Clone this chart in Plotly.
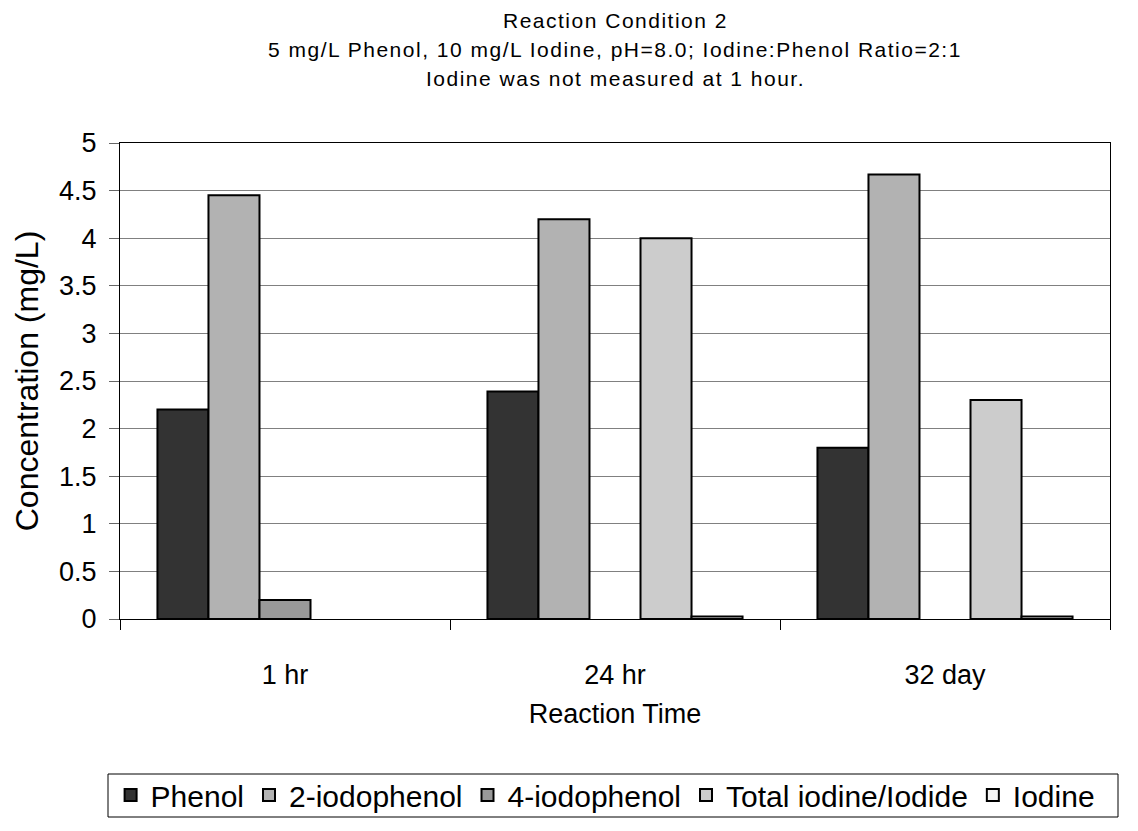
import plotly.graph_objects as go

# Sampling times and measured concentrations (mg/L); None = not measured
times = ["1 hr", "24 hr", "32 day"]
phenol = [2.2, 2.39, 1.8]
iodophenol_2 = [4.45, 4.2, 4.67]
iodophenol_4 = [0.2, None, None]
total_iodine = [None, 4.0, 2.3]
iodine = [None, 0.025, 0.025]

series = [
    ("Phenol", phenol, "#333333"),
    ("2-iodophenol", iodophenol_2, "#b2b2b2"),
    ("4-iodophenol", iodophenol_4, "#999999"),
    ("Total iodine/Iodide", total_iodine, "#cccccc"),
    ("Iodine", iodine, "#f4f4f4"),
]

title_lines = [
    "Reaction Condition 2",
    "5 mg/L Phenol, 10 mg/L Iodine, pH=8.0; Iodine:Phenol Ratio=2:1",
    "Iodine was not measured at 1 hour.",
]

FONT = "Liberation Sans, Arial, sans-serif"
W, H = 1138, 831


def spaced(text, px):
    """Wrap text in a span with extra letter spacing."""
    return f'<span style="letter-spacing:{px}px">{text}</span>'


fig = go.Figure()
for name, vals, color in series:
    fig.add_trace(go.Bar(
        x=times, y=vals, name=name,
        marker=dict(color=color, line=dict(color="#000000", width=2)),
    ))

annotations = []
for i, line in enumerate(title_lines):
    annotations.append(dict(
        text=spaced(line, 1.5), xref="paper", yref="paper", x=0.5, y=1,
        xanchor="center", yanchor="middle", yshift=123 - 29 * i,
        showarrow=False, font=dict(family=FONT, size=21, color="#000000"),
    ))

# Frame drawn around the legend row
legend_frame = dict(
    type="rect", xref="paper", yref="paper",
    x0=(108 - 120) / 990, x1=(1118 - 120) / 990,
    y0=(619 - 817) / 476, y1=(619 - 774) / 476,
    line=dict(color="#000000", width=1), fillcolor="rgba(0,0,0,0)",
    layer="above",
)

fig.update_layout(
    width=W, height=H,
    margin=dict(l=120, r=28, t=143, b=212, autoexpand=False),
    paper_bgcolor="white", plot_bgcolor="white",
    font=dict(family=FONT, color="#000000"),
    barmode="group", bargap=0.227, bargroupgap=0,
    annotations=annotations,
    shapes=[legend_frame],
    showlegend=True,
    legend=dict(
        orientation="h", x=0.49, xanchor="center",
        yref="container", y=1 - 769 / H, yanchor="top",
        font=dict(family=FONT, size=30), borderwidth=0,
        bgcolor="rgba(0,0,0,0)", itemwidth=30, traceorder="normal",
    ),
)

fig.update_xaxes(
    type="category", tickson="boundaries", ticks="outside", ticklen=10,
    tickcolor="#000000", showline=True, linecolor="#000000", linewidth=1,
    mirror=True, showgrid=False, tickfont=dict(size=27),
    ticklabelstandoff=32, automargin=False,
    title=dict(text="Reaction Time", font=dict(size=27), standoff=14),
)
fig.update_yaxes(
    range=[0, 5], dtick=0.5, ticks="outside", ticklen=10, tickcolor="#666666",
    showline=True, linecolor="#000000", linewidth=1, mirror=True,
    gridcolor="#808080", gridwidth=1, zeroline=False, tickfont=dict(size=27),
    ticklabelstandoff=7, automargin=False,
    title=dict(text="Concentration (mg/L)", font=dict(size=32), standoff=10),
)

fig.write_html("out.html")
